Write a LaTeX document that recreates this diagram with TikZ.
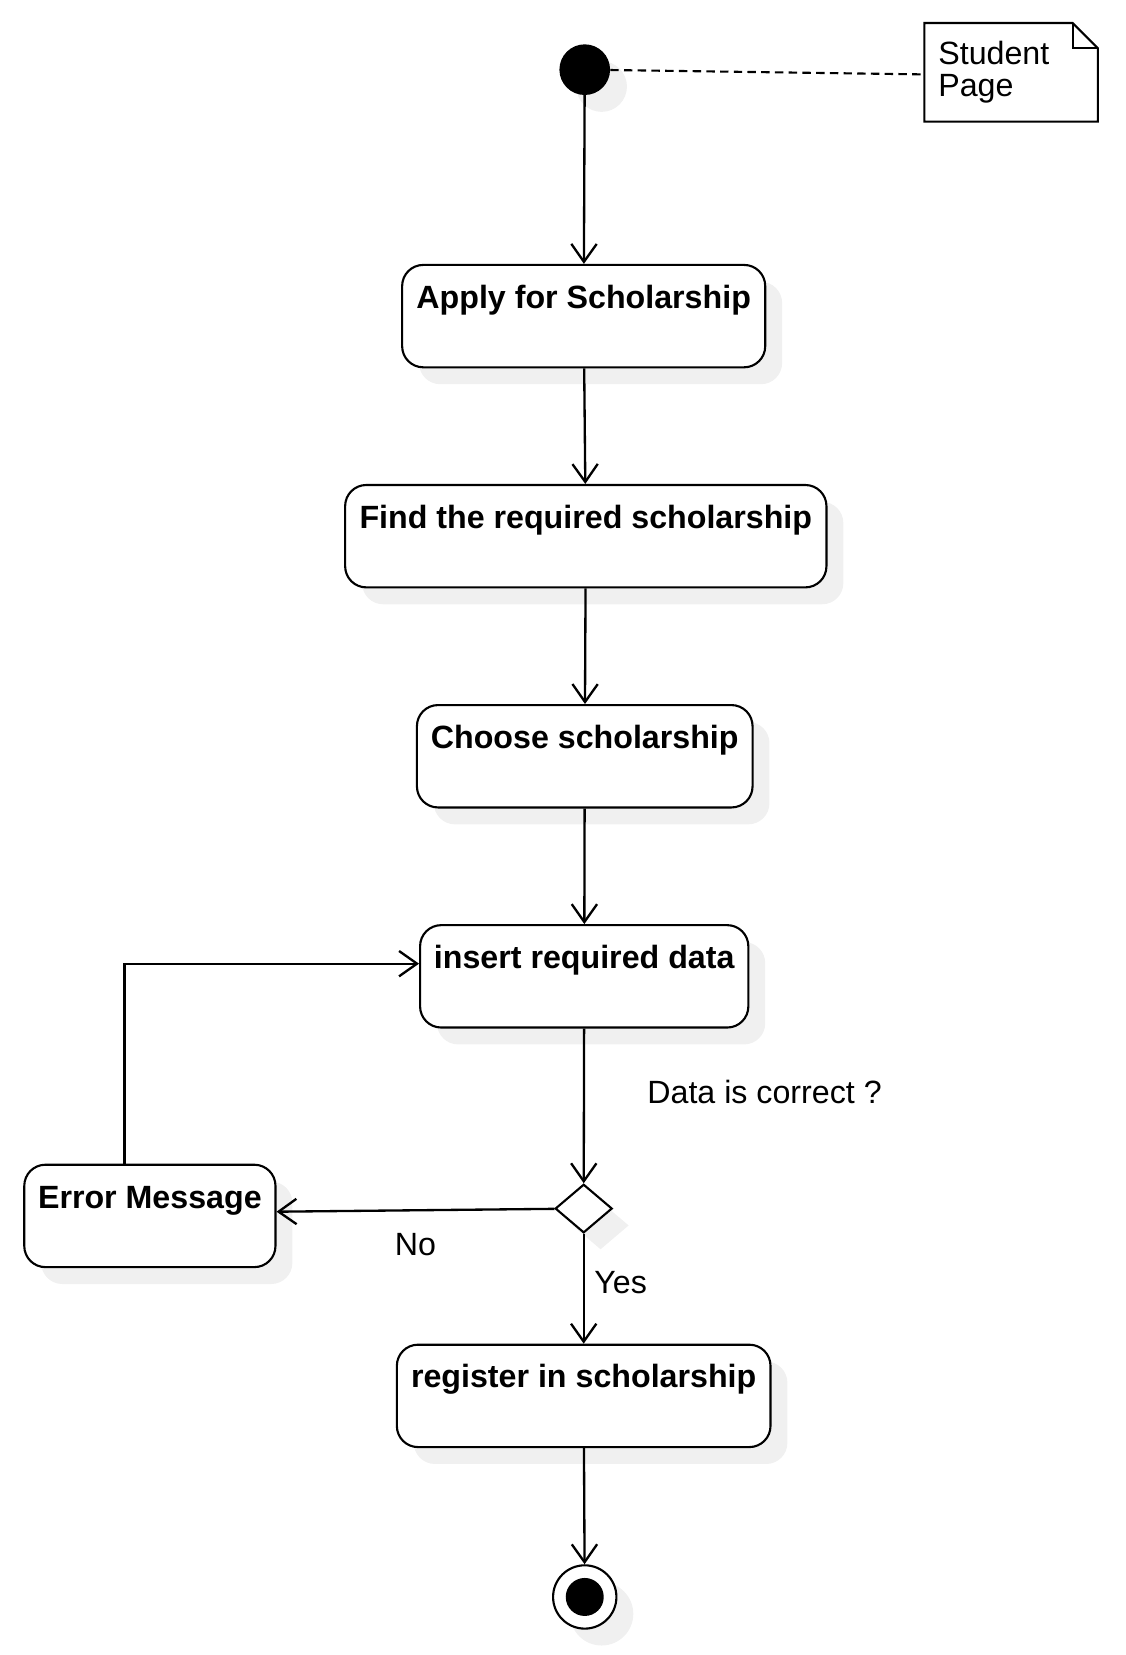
\documentclass[tikz,border=0pt]{standalone}
\usepackage{fontspec}
\setmainfont{Liberation Sans}
\usetikzlibrary{arrows.meta}
\usetikzlibrary{shapes.geometric}
\usetikzlibrary{shadows}

\begin{document}
\begin{tikzpicture}[x=1pt,y=-1pt,
	every node/.style={font=\fontsize{30.5pt}{30pt}\selectfont},
	shade box/.style={drop shadow={shadow xshift=16pt,shadow yshift=-16pt,fill=black!6,opacity=1}},
	activity/.style={draw,line width=2pt,rounded corners=20pt,fill=white,shade box,font=\fontsize{30.5pt}{30pt}\selectfont\bfseries,inner xsep=0pt,inner ysep=8pt,text height=33pt,text depth=48pt,minimum height=97pt},
	notebox/.style={text width=138pt,align=left,inner xsep=13pt,inner ysep=0pt,minimum height=93pt},
	flow/.style={line width=2.2pt,-{Straight Barb[length=17pt,width=24pt]}},
	guard/.style={inner sep=0pt}]
	\useasboundingbox (0,0) rectangle (1066,1568);
	\node[fill,circle,inner sep=0pt,minimum size=48pt,shade box] (start) at (554,66) {};
	\foreach \name/\x/\y/\w/\txt in {apply/553/299.5/344/Apply for Scholarship,find/555/508/456/Find the required scholarship,choose/554/716.5/318/Choose scholarship,insert/553.5/925/311/insert required data,error/142/1152/238/Error Message,register/553/1322.5/354/register in scholarship}{
		\node[activity,minimum width=\w pt] (\name) at (\x,\y) {\txt};
	}
	\node[diamond,draw,fill=white,line width=2pt,aspect=1.17,inner sep=0pt,minimum width=54pt,minimum height=46pt,shade box] (check) at (553,1145) {};
	\node[circle,draw,fill=white,line width=2pt,inner sep=0pt,minimum size=60pt,shade box] (stop) at (554,1513) {};
	\fill (stop) circle (18);
	\node[notebox] (note) at (958,68.5) {Student\\Page};
	\draw[line width=2pt] (note.north west) -- ([xshift=-24pt]note.north east) -- ([yshift=-24pt]note.north east) -- (note.south east) -- (note.south west) -- cycle;
	\draw[line width=2pt] ([xshift=-24pt]note.north east) |- ([yshift=-24pt]note.north east);
	\draw[line width=2pt,dash pattern=on 8pt off 5pt] (start) -- ([yshift=-2pt]note.west);
	\foreach \a/\b in {start/apply,apply/find,find/choose,choose/insert,register/stop}{
		\draw[flow] (\a) -- (\b);
	}
	\draw[flow] (insert) -- node[guard,anchor=west,pos=0.41,xshift=59pt] {Data is correct ?} (check);
	\draw[flow] (check) -- node[guard,anchor=west,pos=0.44,xshift=9pt] {Yes} (register);
	\draw[flow] (check) -- node[guard,below=21pt] {No} ([yshift=4pt]error.east);
	\draw[flow] ([xshift=-24pt]error.north) |- ([yshift=12pt]insert.west);
\end{tikzpicture}
\end{document}
